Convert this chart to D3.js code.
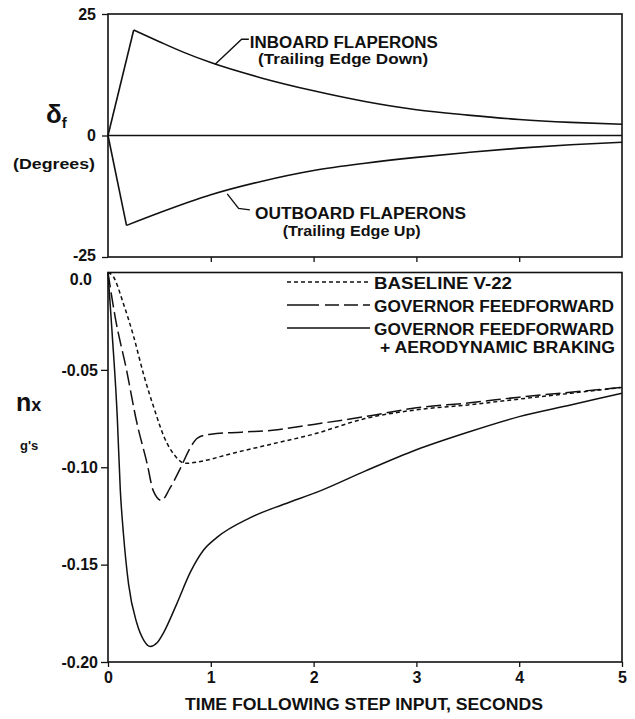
<!DOCTYPE html>
<html><head><meta charset="utf-8">
<script src="https://cdn.jsdelivr.net/npm/d3@7"></script>
<style>
body{margin:0;background:#fff}
svg{display:block;background:#fff}
text{font-family:"Liberation Sans",Arial,Helvetica,sans-serif;font-weight:bold;fill:#111}
</style>
</head><body>
<svg id="c" width="635" height="719"></svg>
<script>
// ---------- data ----------
const timeTicks = [0, 1, 2, 3, 4, 5];
const deltaTicks = [25, 0, -25];
const deltaTickLabels = ["25", "0", "-25"];
const nxTicks = [0, -0.05, -0.10, -0.15, -0.20];
const nxTickLabels = ["0.0", "-0.05", "-0.10", "-0.15", "-0.20"];

const inboardT = [0, 0.25, 0.5, 0.75, 1.0, 1.5, 2.0, 2.5, 3.0, 3.5, 4.0, 4.5, 5.0];
const inboardDeg = [0, 21.7, 19.3, 17.0, 15.0, 11.8, 9.2, 7.0, 5.3, 4.2, 3.3, 2.7, 2.3];

const outboardT = [0, 0.18, 0.5, 1.0, 1.5, 2.0, 2.5, 3.0, 3.5, 4.0, 4.5, 5.0];
const outboardDeg = [0, -18.5, -15.9, -12.2, -9.4, -7.2, -5.7, -4.5, -3.5, -2.6, -1.9, -1.4];

const baselineT = [0, 0.05, 0.15, 0.25, 0.35, 0.45, 0.55, 0.65, 0.75, 0.9, 1.2, 1.6, 2.0, 2.5, 3.0, 3.5, 4.0, 4.5, 5.0];
const baselineNx = [0, -0.002, -0.016, -0.033, -0.053, -0.070, -0.085, -0.094, -0.098, -0.097, -0.093, -0.088, -0.083, -0.075, -0.0705, -0.068, -0.065, -0.062, -0.059];

const governorT = [0, 0.07, 0.18, 0.28, 0.38, 0.44, 0.52, 0.6, 0.7, 0.8, 0.87, 1.0, 1.3, 1.6, 2.0, 2.5, 3.0, 3.5, 4.0, 4.5, 5.0];
const governorNx = [0, -0.023, -0.050, -0.077, -0.098, -0.112, -0.117, -0.111, -0.101, -0.090, -0.085, -0.083, -0.082, -0.081, -0.078, -0.074, -0.0695, -0.067, -0.064, -0.0615, -0.059];

const brakingT = [0, 0.04, 0.09, 0.12, 0.15, 0.2, 0.28, 0.35, 0.41, 0.48, 0.54, 0.67, 0.8, 0.93, 1.06, 1.38, 1.71, 2.07, 2.5, 3.0, 3.5, 4.0, 4.5, 5.0];
const brakingNx = [0, -0.031, -0.074, -0.112, -0.134, -0.160, -0.180, -0.189, -0.192, -0.190, -0.185, -0.170, -0.154, -0.1425, -0.136, -0.126, -0.119, -0.112, -0.102, -0.091, -0.082, -0.074, -0.068, -0.062];

const legendLabels = [["BASELINE  V-22"], ["GOVERNOR FEEDFORWARD"], ["GOVERNOR FEEDFORWARD", "+ AERODYNAMIC BRAKING"]];

// ---------- layout ----------
const svg = d3.select("#c");
const X0 = 108, X1 = 622;
const x = d3.scaleLinear().domain([0, 5]).range([X0, X1]);
const yTop = d3.scaleLinear().domain([-25, 25]).range([257, 14]);
const yBot = d3.scaleLinear().domain([-0.2, 0]).range([662, 272.5]);
const ink = "#111";

function zip(t, v) { return t.map((d, i) => [d, v[i]]); }

// ---------- top panel ----------
const gTop = svg.append("g");
gTop.append("rect").attr("x", X0).attr("y", yTop(25)).attr("width", X1 - X0).attr("height", yTop(-25) - yTop(25))
  .attr("fill", "none").attr("stroke", ink).attr("stroke-width", 1.6);
gTop.append("line").attr("x1", X0).attr("x2", X1).attr("y1", yTop(0)).attr("y2", yTop(0))
  .attr("stroke", ink).attr("stroke-width", 1.4);

const axTopL = gTop.append("g").attr("transform", `translate(${X0},0)`)
  .call(d3.axisLeft(yTop).tickValues(deltaTicks).tickSize(6).tickPadding(6).tickFormat((d, i) => deltaTickLabels[i]));
const axTopB = gTop.append("g").attr("transform", `translate(0,${yTop(-25)})`)
  .call(d3.axisBottom(x).tickValues(timeTicks.slice(1, -1)).tickSize(5).tickFormat(""));
[axTopL, axTopB].forEach(a => { a.select(".domain").remove(); a.selectAll("line").attr("stroke", ink).attr("stroke-width", 1.3); });
axTopL.selectAll("text").attr("font-size", 16).attr("font-family", "Liberation Sans, Arial, sans-serif").attr("font-weight", "bold").attr("fill", ink);
axTopL.selectAll(".tick").filter(d => d === -25).select("text").attr("dy", "0.2em");

const lineTop = d3.line().x(d => x(d[0])).y(d => yTop(d[1])).curve(d3.curveMonotoneX);
const lineTopLin = d3.line().x(d => x(d[0])).y(d => yTop(d[1]));
function drawTop(t, v) {
  const pts = zip(t, v);
  gTop.append("path").attr("d", lineTopLin(pts.slice(0, 2))).attr("fill", "none").attr("stroke", ink).attr("stroke-width", 1.6);
  gTop.append("path").attr("d", lineTop(pts.slice(1))).attr("fill", "none").attr("stroke", ink).attr("stroke-width", 1.6);
}
drawTop(inboardT, inboardDeg);
drawTop(outboardT, outboardDeg);

// annotations (data-space anchors)
const leader = d3.line().x(d => x(d[0])).y(d => yTop(d[1]));
gTop.append("path").attr("d", leader([[1.04, 14.6], [1.30, 19.8], [1.37, 19.8]]))
  .attr("fill", "none").attr("stroke", ink).attr("stroke-width", 1.4);
gTop.append("path").attr("d", leader([[1.16, -12.0], [1.27, -15.0], [1.38, -15.3]]))
  .attr("fill", "none").attr("stroke", ink).attr("stroke-width", 1.4);

function label(g, t, deg, str, len, size) {
  g.append("text").attr("x", x(t)).attr("y", yTop(deg)).attr("dy", "0.36em")
    .attr("font-size", size).attr("textLength", len).attr("lengthAdjust", "spacingAndGlyphs").text(str);
}
label(gTop, 1.38, 19.1, "INBOARD FLAPERONS", 188, 16);
label(gTop, 1.46, 15.8, "(Trailing Edge Down)", 170, 15);
label(gTop, 1.43, -15.9, "OUTBOARD FLAPERONS", 211, 16);
label(gTop, 1.70, -19.6, "(Trailing Edge Up)", 138, 15);

// delta_f axis label
const dl = svg.append("text").attr("x", 46).attr("y", 123).attr("font-size", 26).attr("font-weight", "normal");
dl.append("tspan").text("δ");
dl.append("tspan").attr("font-size", 15).attr("dy", 5).text("f");
svg.append("text").attr("x", 13).attr("y", 169).attr("font-size", 15)
  .attr("textLength", 82).attr("lengthAdjust", "spacingAndGlyphs").text("(Degrees)");

// ---------- bottom panel ----------
const gBot = svg.append("g");
gBot.append("rect").attr("x", X0).attr("y", yBot(0)).attr("width", X1 - X0).attr("height", yBot(-0.2) - yBot(0))
  .attr("fill", "none").attr("stroke", ink).attr("stroke-width", 1.6);

const axBotL = gBot.append("g").attr("transform", `translate(${X0},0)`)
  .call(d3.axisLeft(yBot).tickValues(nxTicks).tickSize(7).tickPadding(3).tickFormat((d, i) => nxTickLabels[i]));
const axBotB = gBot.append("g").attr("transform", `translate(0,${yBot(-0.2)})`)
  .call(d3.axisBottom(x).tickValues(timeTicks).tickSize(5).tickPadding(5).tickFormat(d => d));
[axBotL, axBotB].forEach(a => {
  a.select(".domain").remove();
  a.selectAll("line").attr("stroke", ink).attr("stroke-width", 1.3);
  a.selectAll("text").attr("font-size", 16).attr("font-family", "Liberation Sans, Arial, sans-serif").attr("font-weight", "bold").attr("fill", ink);
});
const zeroTick = axBotL.selectAll(".tick").filter(d => d === 0);
zeroTick.select("line").remove();
zeroTick.select("text").attr("dy", "0.75em").attr("x", -16);

const lineBot = d3.line().x(d => x(d[0])).y(d => yBot(d[1])).curve(d3.curveMonotoneX);
gBot.append("path").attr("d", lineBot(zip(baselineT, baselineNx))).attr("fill", "none")
  .attr("stroke", ink).attr("stroke-width", 1.5).attr("stroke-dasharray", "4,3");
gBot.append("path").attr("d", lineBot(zip(governorT, governorNx))).attr("fill", "none")
  .attr("stroke", ink).attr("stroke-width", 1.5).attr("stroke-dasharray", "15,5");
gBot.append("path").attr("d", lineBot(zip(brakingT, brakingNx))).attr("fill", "none")
  .attr("stroke", ink).attr("stroke-width", 1.5);

// legend
const legDash = ["4,3", "32,6,14,5,14,5", null];
const legY = [282, 305, 328];
const legLens = [[138], [240], [240, 235]];
legendLabels.forEach((lab, i) => {
  const ln = gBot.append("line").attr("x1", 287).attr("x2", 370).attr("y1", legY[i]).attr("y2", legY[i])
    .attr("stroke", ink).attr("stroke-width", 1.5);
  if (legDash[i]) ln.attr("stroke-dasharray", legDash[i]);
  lab.forEach((s, j) => {
    gBot.append("text").attr("x", j === 0 ? 374 : 380).attr("y", legY[i] + 1 + j * 18).attr("dy", "0.36em")
      .attr("font-size", 16).attr("textLength", legLens[i][j]).attr("lengthAdjust", "spacingAndGlyphs").text(s);
  });
});

// n_x label
const nl = svg.append("text").attr("x", 16).attr("y", 411).attr("font-size", 25).attr("font-weight", "normal");
nl.append("tspan").text("n");
nl.append("tspan").attr("font-size", 18).text("x");
svg.append("text").attr("x", 20).attr("y", 450).attr("font-size", 13).text("g's");

// x axis title
svg.append("text").attr("x", 185).attr("y", 710).attr("font-size", 16)
  .attr("textLength", 358).attr("lengthAdjust", "spacingAndGlyphs").text("TIME FOLLOWING STEP INPUT,  SECONDS");
</script>
</body></html>
